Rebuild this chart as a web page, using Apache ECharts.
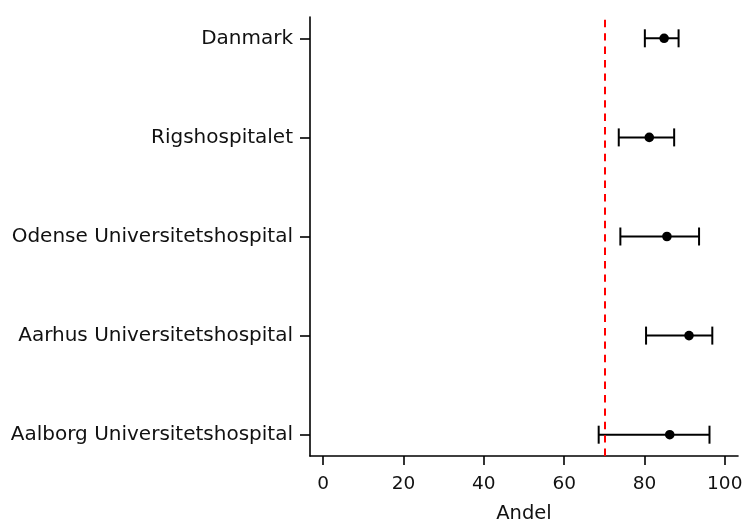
<!DOCTYPE html>
<html>
<head>
<meta charset="utf-8">
<script src="https://cdn.jsdelivr.net/npm/echarts@6/dist/echarts.min.js"></script>
<style>
html,body{margin:0;padding:0;background:#fff;}
#chart{width:745px;height:521px;}
</style>
</head>
<body>
<div id="chart"></div>
<script>
// Categories, top to bottom
const categories = ['Danmark', 'Rigshospitalet', 'Odense Universitetshospital', 'Aarhus Universitetshospital', 'Aalborg Universitetshospital'];
const estimate = [84.9, 81.2, 85.6, 91.1, 86.3];
const lower = [80.1, 73.6, 74.0, 80.4, 68.6];
const upper = [88.5, 87.4, 93.6, 96.9, 96.2];
const xTicks = [0, 20, 40, 60, 80, 100];
const referenceValue = 70;
const xTitle = 'Andel';

const n = categories.length;
const yTicks = categories.map((c, i) => i);
const rows = categories.map((c, i) => [lower[i], upper[i], estimate[i], n - 1 - i]);

const font = 'DejaVu Sans';
const chart = echarts.init(document.getElementById('chart'));
chart.setOption({
  animation: false,
  backgroundColor: '#fff',
  grid: { left: 310, right: 7, top: 17, bottom: 65, containLabel: false, outerBoundsMode: 'none' },
  xAxis: {
    type: 'value', min: -3.3, max: 103.3,
    name: xTitle, nameLocation: 'middle', nameGap: 48,
    nameTextStyle: { fontFamily: font, fontSize: 19.5, color: '#111' },
    axisLine: { show: true, onZero: false, lineStyle: { color: '#000', width: 1.6 } },
    axisTick: { show: true, customValues: xTicks, length: 9, lineStyle: { color: '#000', width: 1.6 } },
    axisLabel: { customValues: xTicks, margin: 19, fontFamily: font, fontSize: 18.5, color: '#111' },
    splitLine: { show: false }
  },
  yAxis: {
    type: 'value', min: -0.215, max: n - 1 + 0.215,
    axisLine: { show: true, onZero: false, lineStyle: { color: '#000', width: 1.6 } },
    axisTick: { show: true, customValues: yTicks, length: 10, lineStyle: { color: '#000', width: 1.6 } },
    axisLabel: { customValues: yTicks, margin: 17, fontFamily: font, fontSize: 20, color: '#111',
      formatter: v => categories[n - 1 - Math.round(v)] },
    splitLine: { show: false }
  },
  series: [{
    type: 'custom',
    data: rows,
    encode: { x: [0, 1, 2], y: 3 },
    renderItem: function (params, api) {
      const y = api.value(3);
      const pL = api.coord([api.value(0), y]);
      const pU = api.coord([api.value(1), y]);
      const pE = api.coord([api.value(2), y]);
      const h = 9;
      const st = { stroke: '#000', lineWidth: 2 };
      return {
        type: 'group',
        children: [
          { type: 'line', shape: { x1: pL[0], y1: pL[1], x2: pU[0], y2: pU[1] }, style: st },
          { type: 'line', shape: { x1: pL[0], y1: pL[1] - h, x2: pL[0], y2: pL[1] + h }, style: st },
          { type: 'line', shape: { x1: pU[0], y1: pU[1] - h, x2: pU[0], y2: pU[1] + h }, style: st },
          { type: 'circle', shape: { cx: pE[0], cy: pE[1], r: 4.8 }, style: { fill: '#000' } }
        ]
      };
    },
    markLine: {
      silent: true, symbol: 'none', label: { show: false },
      lineStyle: { color: '#ff0000', type: [7.4, 6], width: 2 },
      data: [{ xAxis: referenceValue }]
    },
    z: 3
  }]
});
</script>
</body>
</html>
